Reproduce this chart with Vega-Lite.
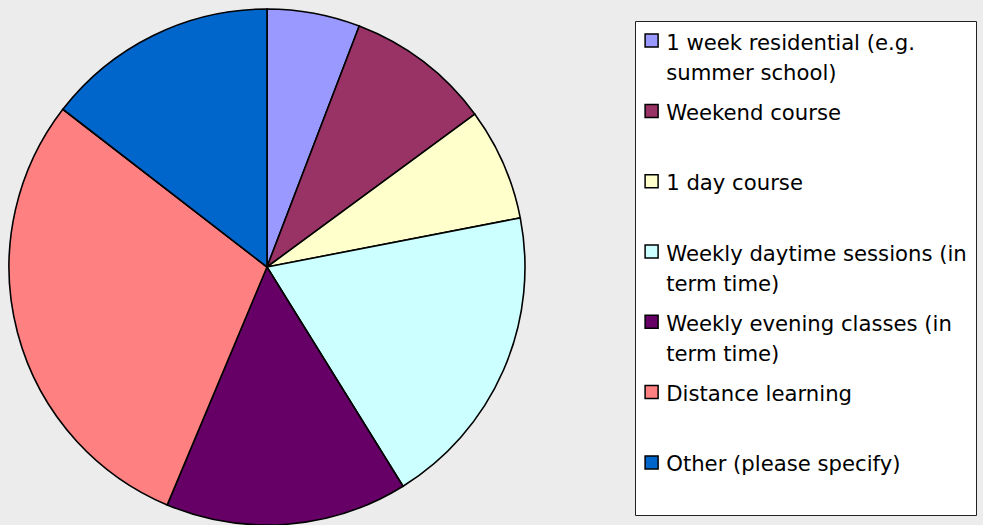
{
  "$schema": "https://vega.github.io/schema/vega-lite/v6.json",
  "width": 516,
  "height": 516,
  "autosize": {"type": "pad"},
  "padding": {"left": 5, "top": 5, "right": 6, "bottom": 0},
  "background": "#ececec",
  "view": {"stroke": null},
  "data": {
    "values": [
      {"idx": 1, "mode": "1 week residential (e.g. summer school)", "pct": 5.82},
      {"idx": 2, "mode": "Weekend course", "pct": 9.09},
      {"idx": 3, "mode": "1 day course", "pct": 7.04},
      {"idx": 4, "mode": "Weekly daytime sessions (in term time)", "pct": 19.21},
      {"idx": 5, "mode": "Weekly evening classes (in term time)", "pct": 15.16},
      {"idx": 6, "mode": "Distance learning", "pct": 29.15},
      {"idx": 7, "mode": "Other (please specify)", "pct": 14.53}
    ]
  },
  "mark": {"type": "arc", "radius": 258, "stroke": "#000000", "strokeWidth": 1.6},
  "encoding": {
    "theta": {"field": "pct", "type": "quantitative", "stack": true},
    "order": {"field": "idx", "type": "quantitative"},
    "color": {
      "field": "mode",
      "type": "nominal",
      "scale": {
        "domain": [
          "1 week residential (e.g. summer school)",
          "Weekend course",
          "1 day course",
          "Weekly daytime sessions (in term time)",
          "Weekly evening classes (in term time)",
          "Distance learning",
          "Other (please specify)"
        ],
        "range": ["#9999FF", "#993366", "#FFFFCC", "#CCFFFF", "#660066", "#FF8080", "#0066CC"]
      },
      "legend": {
        "title": null,
        "orient": "none",
        "legendX": 626,
        "legendY": 12,
        "fillColor": "#ffffff",
        "strokeColor": "#222222",
        "padding": 9,
        "symbolType": "square",
        "symbolSize": 169,
        "symbolOffset": -3,
        "symbolStrokeColor": "#000000",
        "symbolStrokeWidth": 1.5,
        "labelFont": "DejaVu Sans",
        "labelFontSize": 21.2,
        "labelColor": "#000000",
        "labelOffset": 4,
        "labelLimit": 400,
        "labelBaseline": "top",
        "rowPadding": 16.3,
        "labelExpr": "datum.label == '1 week residential (e.g. summer school)' ? ['1 week residential (e.g.', 'summer school)'] : datum.label == 'Weekly daytime sessions (in term time)' ? ['Weekly daytime sessions (in', 'term time)'] : datum.label == 'Weekly evening classes (in term time)' ? ['Weekly evening classes (in', 'term time)'] : [datum.label, '']"
      }
    }
  },
  "config": {
    "style": {"guide-label": {"lineHeight": 30, "dy": -8}}
  }
}
